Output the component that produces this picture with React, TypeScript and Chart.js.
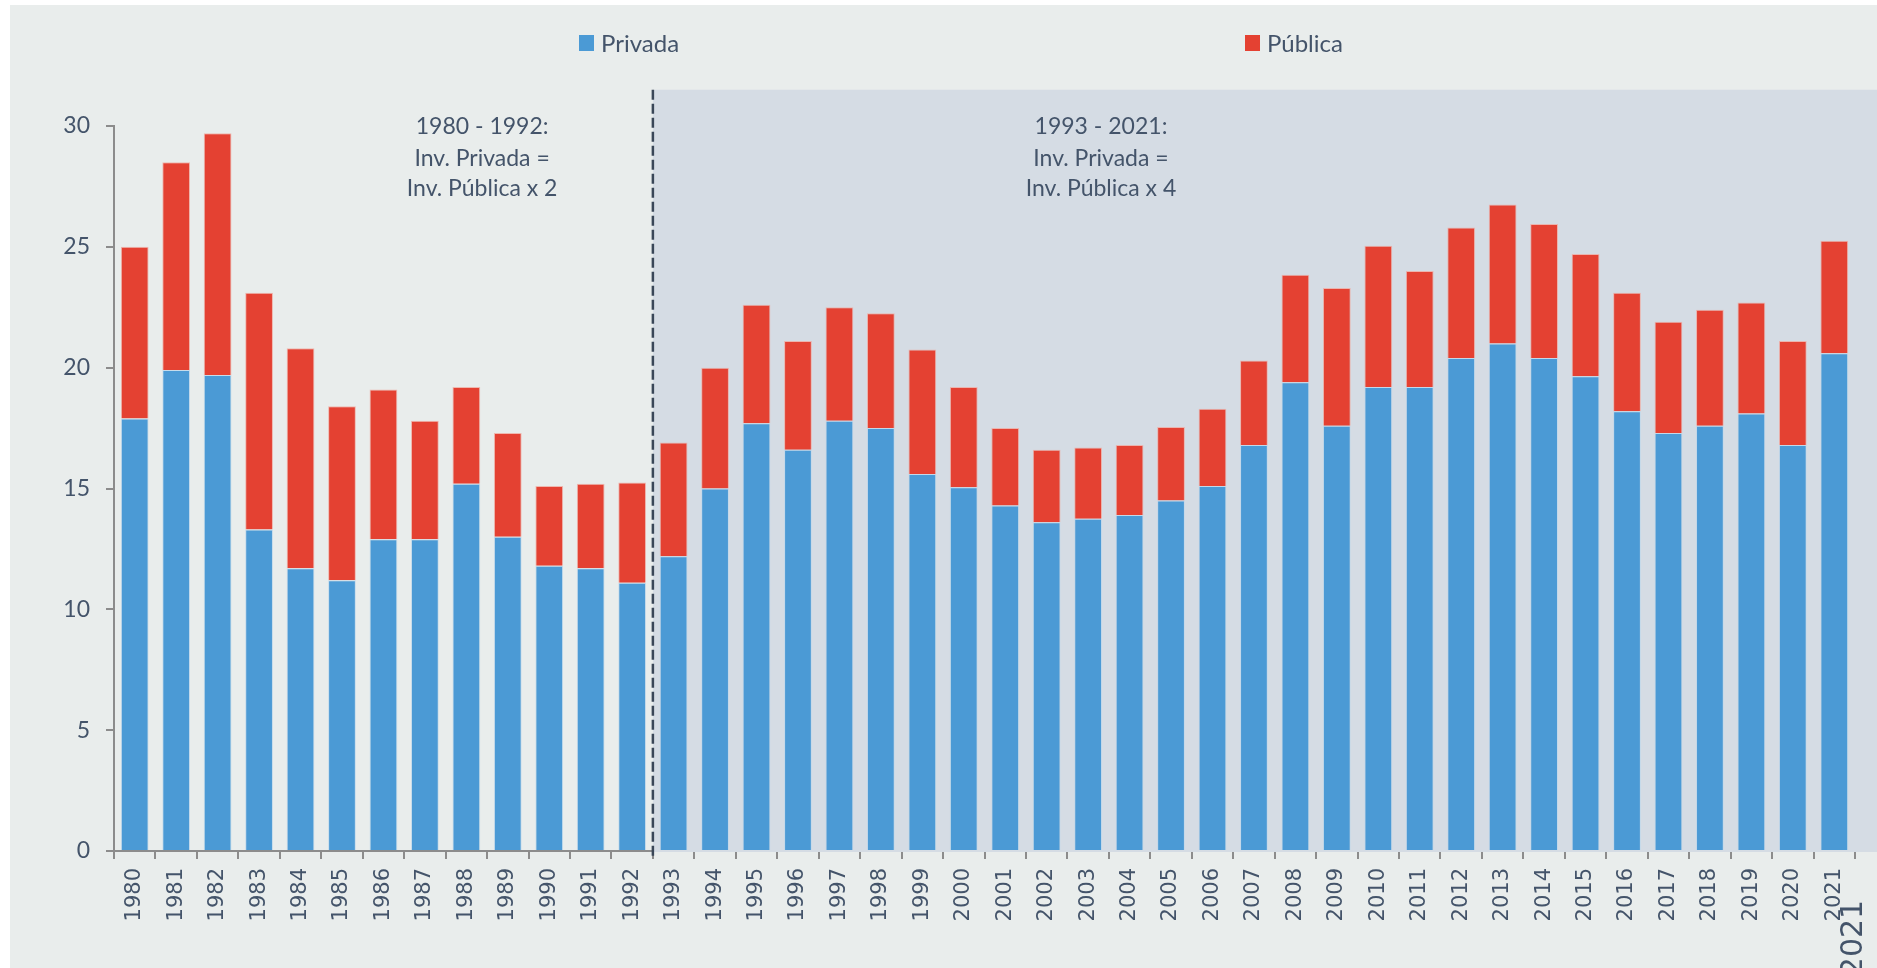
import React, { useEffect, useRef } from "react";
import { Chart, registerables } from "chart.js";

Chart.register(...registerables);

const years = [
  "1980", "1981", "1982", "1983", "1984", "1985", "1986", "1987", "1988", "1989",
  "1990", "1991", "1992", "1993", "1994", "1995", "1996", "1997", "1998", "1999",
  "2000", "2001", "2002", "2003", "2004", "2005", "2006", "2007", "2008", "2009",
  "2010", "2011", "2012", "2013", "2014", "2015", "2016", "2017", "2018", "2019",
  "2020", "2021",
];

const privada = [
  17.9, 19.9, 19.7, 13.3, 11.7, 11.2, 12.9, 12.9, 15.2, 13.0,
  11.8, 11.7, 11.1, 12.2, 15.0, 17.7, 16.6, 17.8, 17.5, 15.6,
  15.05, 14.3, 13.6, 13.75, 13.9, 14.5, 15.1, 16.8, 19.4, 17.6,
  19.2, 19.2, 20.4, 21.0, 20.4, 19.65, 18.2, 17.3, 17.6, 18.1,
  16.8, 20.6,
];

const publica = [
  7.1, 8.6, 10.0, 9.8, 9.1, 7.2, 6.2, 4.9, 4.0, 4.3,
  3.3, 3.5, 4.15, 4.7, 5.0, 4.9, 4.5, 4.7, 4.75, 5.15,
  4.15, 3.2, 3.0, 2.95, 2.9, 3.05, 3.2, 3.5, 4.45, 5.7,
  5.85, 4.8, 5.4, 5.75, 5.55, 5.05, 4.9, 4.6, 4.8, 4.6,
  4.3, 4.65,
];

const seriesNames = ["Privada", "Pública"];
const yTicks = [0, 5, 10, 15, 20, 25, 30];
const period1Lines = ["1980 - 1992:", "Inv. Privada =", "Inv. Pública x 2"];
const period2Lines = ["1993 - 2021:", "Inv. Privada =", "Inv. Pública x 4"];
const stray = "2021";

const BLUE = "#4B9AD5";
const RED = "#E44132";
const TEXT = "#44546A";
const PANEL = "#E9EDEC";
const SHADE = "#D5DCE4";
const AXIS = "#8C8C8C";
const LABEL_FONT = "Lato, 'Open Sans', sans-serif";

const decorPlugin = {
  id: "decor",
  beforeDatasetsDraw(chart: any) {
    const { ctx, chartArea, scales } = chart;
    const x = scales.x;
    const y = scales.y;
    const split = (x.getPixelForValue(12) + x.getPixelForValue(13)) / 2;
    const top = y.getPixelForValue(31.5);
    ctx.save();
    ctx.fillStyle = SHADE;
    ctx.fillRect(split, top, chart.width - split, chartArea.bottom + 1 - top);
    ctx.restore();
  },
  afterDatasetsDraw(chart: any) {
    const { ctx, chartArea, scales } = chart;
    const x = scales.x;
    const y = scales.y;
    const split = (x.getPixelForValue(12) + x.getPixelForValue(13)) / 2;
    const top = y.getPixelForValue(31.5);
    ctx.save();
    ctx.strokeStyle = "#3A4758";
    ctx.lineWidth = 2.5;
    ctx.setLineDash([10, 4]);
    ctx.beginPath();
    ctx.moveTo(split, top);
    ctx.lineTo(split, chartArea.bottom + 8);
    ctx.stroke();
    ctx.restore();
  },
  afterDraw(chart: any) {
    const { ctx, scales } = chart;
    const x = scales.x;
    ctx.save();
    ctx.fillStyle = TEXT;
    ctx.font = `23px ${LABEL_FONT}`;
    ctx.textAlign = "center";
    ctx.textBaseline = "middle";
    const c1 = x.getPixelForValue(8.38);
    const c2 = x.getPixelForValue(23.31);
    const lineYs = [122, 154, 184];
    period1Lines.forEach((t, i) => ctx.fillText(t, c1, lineYs[i]));
    period2Lines.forEach((t, i) => ctx.fillText(t, c2, lineYs[i]));

    // legend
    const legendY = 38;
    const items = [
      { name: seriesNames[0], color: BLUE, x: 569 },
      { name: seriesNames[1], color: RED, x: 1235 },
    ];
    ctx.textAlign = "left";
    ctx.font = `24px ${LABEL_FONT}`;
    items.forEach((it) => {
      ctx.fillStyle = it.color;
      ctx.fillRect(it.x, legendY - 8, 15, 16);
      ctx.fillStyle = TEXT;
      ctx.fillText(it.name, it.x + 22, legendY + 1);
    });

    // stray large label
    ctx.save();
    ctx.translate(1844, 933);
    ctx.rotate(-Math.PI / 2);
    ctx.font = "30px 'DejaVu Sans', sans-serif";
    ctx.textAlign = "center";
    ctx.textBaseline = "middle";
    ctx.fillStyle = TEXT;
    ctx.fillText(stray, 0, 0);
    ctx.restore();
    ctx.restore();
  },
};

export default function App() {
  const ref = useRef<HTMLCanvasElement>(null);

  useEffect(() => {
    if (!ref.current) return;
    const chart = new Chart(ref.current, {
      type: "bar",
      data: {
        labels: years,
        datasets: [
          {
            label: seriesNames[0],
            data: privada,
            backgroundColor: BLUE,
            borderColor: "rgba(190,215,235,0.8)",
            borderWidth: 1,
            barPercentage: 0.67,
            categoryPercentage: 1,
          },
          {
            label: seriesNames[1],
            data: publica,
            backgroundColor: RED,
            borderColor: "rgba(240,170,160,0.8)",
            borderWidth: 1,
            barPercentage: 0.67,
            categoryPercentage: 1,
          },
        ],
      },
      options: {
        animation: false,
        responsive: false,
        maintainAspectRatio: false,
        layout: { padding: { left: 0, right: 22, top: 121, bottom: 0 } },
        plugins: {
          legend: { display: false },
          tooltip: { enabled: false },
        },
        scales: {
          x: {
            stacked: true,
            afterFit: (s: any) => {
              s.height = 117;
            },
            border: { display: true, color: AXIS, width: 2 },
            grid: {
              display: true,
              drawOnChartArea: false,
              drawTicks: true,
              tickLength: 8,
              color: AXIS,
              lineWidth: 2,
              offset: true,
            },
            ticks: {
              autoSkip: false,
              minRotation: 90,
              maxRotation: 90,
              color: TEXT,
              padding: 9,
              font: { family: "'DejaVu Sans', sans-serif", size: 21 },
            },
          },
          y: {
            stacked: true,
            min: 0,
            max: 30,
            afterFit: (s: any) => {
              s.width = 104;
            },
            afterBuildTicks: (s: any) => {
              s.ticks = yTicks.map((v) => ({ value: v }));
            },
            border: { display: true, color: AXIS, width: 2 },
            grid: {
              display: true,
              drawOnChartArea: false,
              drawTicks: true,
              tickLength: 8,
              color: AXIS,
              lineWidth: 2,
            },
            ticks: {
              color: TEXT,
              padding: 16,
              font: { family: LABEL_FONT, size: 23 },
            },
          },
        },
      },
      plugins: [decorPlugin],
    });
    return () => chart.destroy();
  }, []);

  return (
    <div
      style={{
        position: "fixed",
        left: 10,
        top: 5,
        width: 1867,
        height: 963,
        background: PANEL,
      }}
    >
      <canvas ref={ref} width={1867} height={963} style={{ display: "block" }} />
    </div>
  );
}
